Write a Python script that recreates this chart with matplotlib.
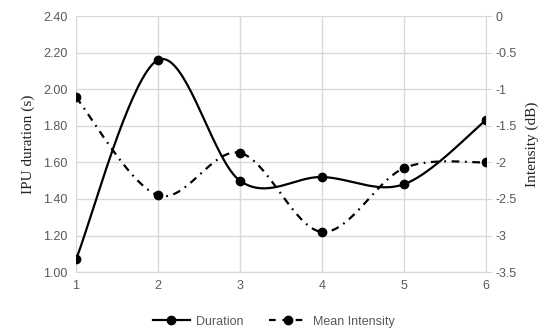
import numpy as np
import matplotlib
matplotlib.use("Agg")
import matplotlib.pyplot as plt
from matplotlib.lines import Line2D

x = [1, 2, 3, 4, 5, 6]
duration = [1.07, 2.16, 1.50, 1.52, 1.48, 1.83]
intensity = [-1.11, -2.45, -1.87, -2.95, -2.08, -2.00]
left_ticks = [1.00, 1.20, 1.40, 1.60, 1.80, 2.00, 2.20, 2.40]
right_ticks = [-3.5, -3, -2.5, -2, -1.5, -1, -0.5, 0]


def smooth(xs, ys, n=40):
    xs = np.asarray(xs, float); ys = np.asarray(ys, float)
    P = np.column_stack([xs, ys])
    out = []
    for i in range(len(P) - 1):
        p0 = P[i - 1] if i > 0 else P[i]
        p1 = P[i]; p2 = P[i + 1]
        p3 = P[i + 2] if i + 2 < len(P) else P[i + 1]
        c1 = p1 + (p2 - p0) / 6.0
        c2 = p2 - (p3 - p1) / 6.0
        t = np.linspace(0, 1, n)[:, None]
        seg = (1 - t) ** 3 * p1 + 3 * (1 - t) ** 2 * t * c1 + 3 * (1 - t) * t ** 2 * c2 + t ** 3 * p2
        out.append(seg if i == 0 else seg[1:])
    s = np.vstack(out)
    return s[:, 0], s[:, 1]


tick_font = "Liberation Sans"
gray = "#595959"
grid_c = "#d9d9d9"

fig = plt.figure(figsize=(5.47, 3.29), dpi=100)
ax = fig.add_axes([0.139, 0.173, 0.749, 0.778])
ax2 = ax.twinx()

dash = (0, (3.5, 2.5, 0.8, 2.5))
sx, sy = smooth(x, duration)
ax.plot(sx, sy, color="black", lw=1.6, zorder=3)
ax.plot(x, duration, "o", color="black", ms=6, zorder=4)
ix, iy = smooth(x, intensity)
ax2.plot(ix, iy, color="black", lw=1.6, linestyle=dash, zorder=3)
ax2.plot(x, intensity, "o", color="black", ms=6, zorder=4)

ax.set_xlim(1, 6)
ax.set_ylim(1.0, 2.4)
ax2.set_ylim(-3.5, 0)
ax.set_xticks(x)
ax.set_yticks(left_ticks)
ax.set_yticklabels([f"{v:.2f}" for v in left_ticks])
ax2.set_yticks(right_ticks)
ax2.set_yticklabels([f"{v:g}" for v in right_ticks])

ax.grid(True, color=grid_c, lw=1)
ax.set_axisbelow(True)
for a in (ax, ax2):
    for s in a.spines.values():
        s.set_visible(False)
ax2.spines["right"].set_visible(True)
ax2.spines["right"].set_color(grid_c)
ax.spines["bottom"].set_visible(True)
ax.spines["bottom"].set_color(grid_c)

ax.tick_params(axis="both", length=0, labelsize=9, labelcolor=gray, pad=6)
ax2.tick_params(axis="y", length=4, color=grid_c, labelsize=9, labelcolor=gray, pad=3)
for lab in ax.get_xticklabels() + ax.get_yticklabels() + ax2.get_yticklabels():
    lab.set_fontfamily(tick_font)

ax.set_ylabel("IPU duration (s)", fontfamily="Liberation Serif", fontsize=11, color="#222222", labelpad=6)
ax2.set_ylabel("Intensity (dB)", fontfamily="Liberation Serif", fontsize=11, color="#222222", labelpad=6)

handles = [Line2D([], [], color="black", lw=1.6, marker="o", ms=6),
           Line2D([], [], color="black", lw=1.6, linestyle=(0, (3, 3)), marker="o", ms=6)]
fig.legend(handles, ["Duration", "Mean Intensity"], loc="center", bbox_to_anchor=(0.5, 0.022),
           ncol=2, frameon=False, prop={"family": tick_font, "size": 9}, labelcolor=gray,
           handlelength=3, columnspacing=2.0, handletextpad=0.5)

fig.savefig("out.png", dpi=100)
